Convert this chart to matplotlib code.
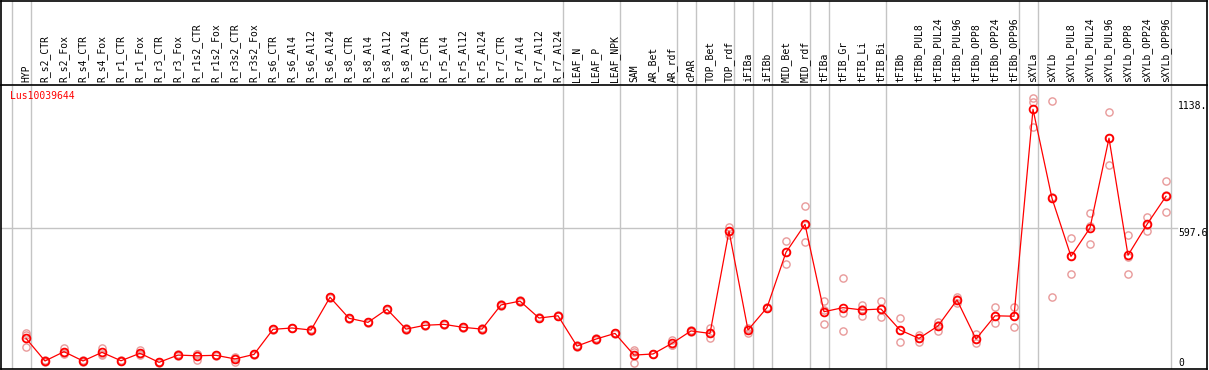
import matplotlib
matplotlib.use("Agg")
import matplotlib.pyplot as plt
from matplotlib.transforms import blended_transform_factory

categories = ["HYP", "R_s2_CTR", "R_s2_Fox", "R_s4_CTR", "R_s4_Fox", "R_r1_CTR", "R_r1_Fox",
              "R_r3_CTR", "R_r3_Fox", "R_r1s2_CTR", "R_r1s2_Fox", "R_r3s2_CTR", "R_r3s2_Fox",
              "R_s6_CTR", "R_s6_Al4", "R_s6_Al12", "R_s6_Al24", "R_s8_CTR", "R_s8_Al4",
              "R_s8_Al12", "R_s8_Al24", "R_r5_CTR", "R_r5_Al4", "R_r5_Al12", "R_r5_Al24",
              "R_r7_CTR", "R_r7_Al4", "R_r7_Al12", "R_r7_Al24", "LEAF_N", "LEAF_P", "LEAF_NPK",
              "SAM", "AR_Bet", "AR_rdf", "cPAR", "TOP_Bet", "TOP_rdf", "iFIBa", "iFIBb",
              "MID_Bet", "MID_rdf", "tFIBa", "tFIB_Gr", "tFIB_Li", "tFIB_Bi", "tFIBb",
              "tFIBb_PUL8", "tFIBb_PUL24", "tFIBb_PUL96", "tFIBb_OPP8", "tFIBb_OPP24",
              "tFIBb_OPP96", "sXYLa", "sXYLb", "sXYLb_PUL8", "sXYLb_PUL24", "sXYLb_PUL96",
              "sXYLb_OPP8", "sXYLb_OPP24", "sXYLb_OPP96"]

mean_values = [109, 9, 50, 9, 47, 10, 43, 3, 35, 32, 34, 18, 38,
               149, 155, 146, 291, 198, 180, 238, 150, 167, 171, 158, 150, 257, 274, 199, 209,
               75, 106, 131, 35, 40, 87, 142, 131, 584, 146, 245, 490, 614, 227, 245, 235, 239,
               146, 109, 164, 279, 106, 209, 207, 1123, 729, 472, 598, 995, 477, 614, 738]

rep1 = [134, 13, 67, 12, 65, 14, 56, 5, 40, 42, 37, 26, 42,
        152, 157, 149, 294, 200, 183, 240, 153, 169, 174, 160, 153, 259, 277, 202, 212,
        78, 109, 134, 56, 42, 102, 144, 154, 604, 154, 247, 540, 694, 275, 375, 257, 275,
        201, 124, 180, 291, 127, 246, 249, 1172, 1161, 552, 663, 1113, 567, 646, 804]
rep2 = [124, 7, 43, 9, 40, 10, 38, 3, 35, 40, 34, 21, 38,
        149, 155, 146, 291, 198, 180, 238, 150, 167, 171, 158, 150, 257, 274, 199, 209,
        75, 106, 131, 50, 40, 80, 142, 132, 583, 150, 245, 492, 611, 236, 220, 238, 237,
        146, 110, 168, 282, 105, 206, 210, 1157, 735, 473, 605, 997, 471, 610, 743]
rep3 = [70, 6, 40, 5, 37, 7, 35, 1, 31, 14, 31, 6, 35,
        147, 153, 143, 288, 196, 178, 235, 148, 165, 169, 156, 148, 254, 272, 197, 207,
        73, 104, 129, 0, 38, 80, 139, 109, 567, 134, 242, 438, 537, 171, 142, 210, 205,
        92, 94, 143, 264, 87, 176, 161, 1043, 291, 393, 525, 875, 393, 586, 667]

# index of the last category in each group (separator drawn just after it)
group_ends = [-1, 0, 28, 31, 34, 35, 37, 38, 39, 41, 42, 45, 52, 53, 60]

gene_name = "Lus10039644"
ref_value = 597.6
right_labels = [("1138.", 1138.0, "center"), ("597.6", 597.6, "top"), ("0", 0.0, "center")]

W, H = 1209, 370
fig = plt.figure(figsize=(W / 100, H / 100), dpi=100)
mono = "DejaVu Sans Mono"

# pixel geometry
x0_px, dx_px = 26.0, 19.0
left_px, right_px = 1.0, 1207.0
zero_px, scale_px = 363.0, 0.2259
main_top_px, main_bot_px = 86.0, 369.0

xlim = ((left_px - x0_px) / dx_px, (right_px - x0_px) / dx_px)
ylim = ((zero_px - main_bot_px) / scale_px, (zero_px - main_top_px) / scale_px)

ax = fig.add_axes([left_px / W, (H - main_bot_px) / H, (right_px - left_px) / W,
                   (main_bot_px - main_top_px) / H])
hx = fig.add_axes([left_px / W, (H - 85) / H, (right_px - left_px) / W, 84.5 / H])

for a in (ax, hx):
    a.set_xlim(*xlim)
    a.set_xticks([])
    a.set_yticks([])
    for s in a.spines.values():
        s.set_color("black")
        s.set_linewidth(1.2)
ax.spines["top"].set_visible(False)
ax.set_ylim(*ylim)
hx.set_ylim(0, 1)

grid_c = "#c4c4c4"
for g in group_ends:
    for a in (ax, hx):
        a.axvline(g + 0.25, color=grid_c, lw=1.0, zorder=1)

ax.plot([xlim[0], (1177 - x0_px) / dx_px], [ref_value, ref_value], color=grid_c, lw=1.0, zorder=1)

xs = list(range(len(categories)))
ax.plot(xs, mean_values, color="#ff0000", lw=0.9, zorder=3)
for reps in (rep1, rep2, rep3):
    ax.plot(xs, reps, ls="none", marker="o", ms=5.2, mfc="none", mec="#e89a9a", mew=1.0, zorder=2)
ax.plot(xs, mean_values, ls="none", marker="o", ms=5.6, mfc="none", mec="#ff0000", mew=1.3, zorder=4)

trans_h = blended_transform_factory(hx.transData, hx.transAxes)
for i, lab in enumerate(categories):
    hx.text(i, 2.5 / 84.5, lab, rotation=90, ha="center", va="bottom", fontsize=7,
            family=mono, color="black", transform=trans_h)

ax.text(9.0 / 1206, 1 - 5.0 / 283, gene_name, transform=ax.transAxes, ha="left", va="top",
        fontsize=7, family=mono, color="#ff0000")

xr = (1178 - x0_px) / dx_px
for txt, v, va in right_labels:
    ax.text(xr, v, txt, ha="left", va=va, fontsize=7, family=mono, color="black", clip_on=False)

fig.savefig("out.png", dpi=100)
